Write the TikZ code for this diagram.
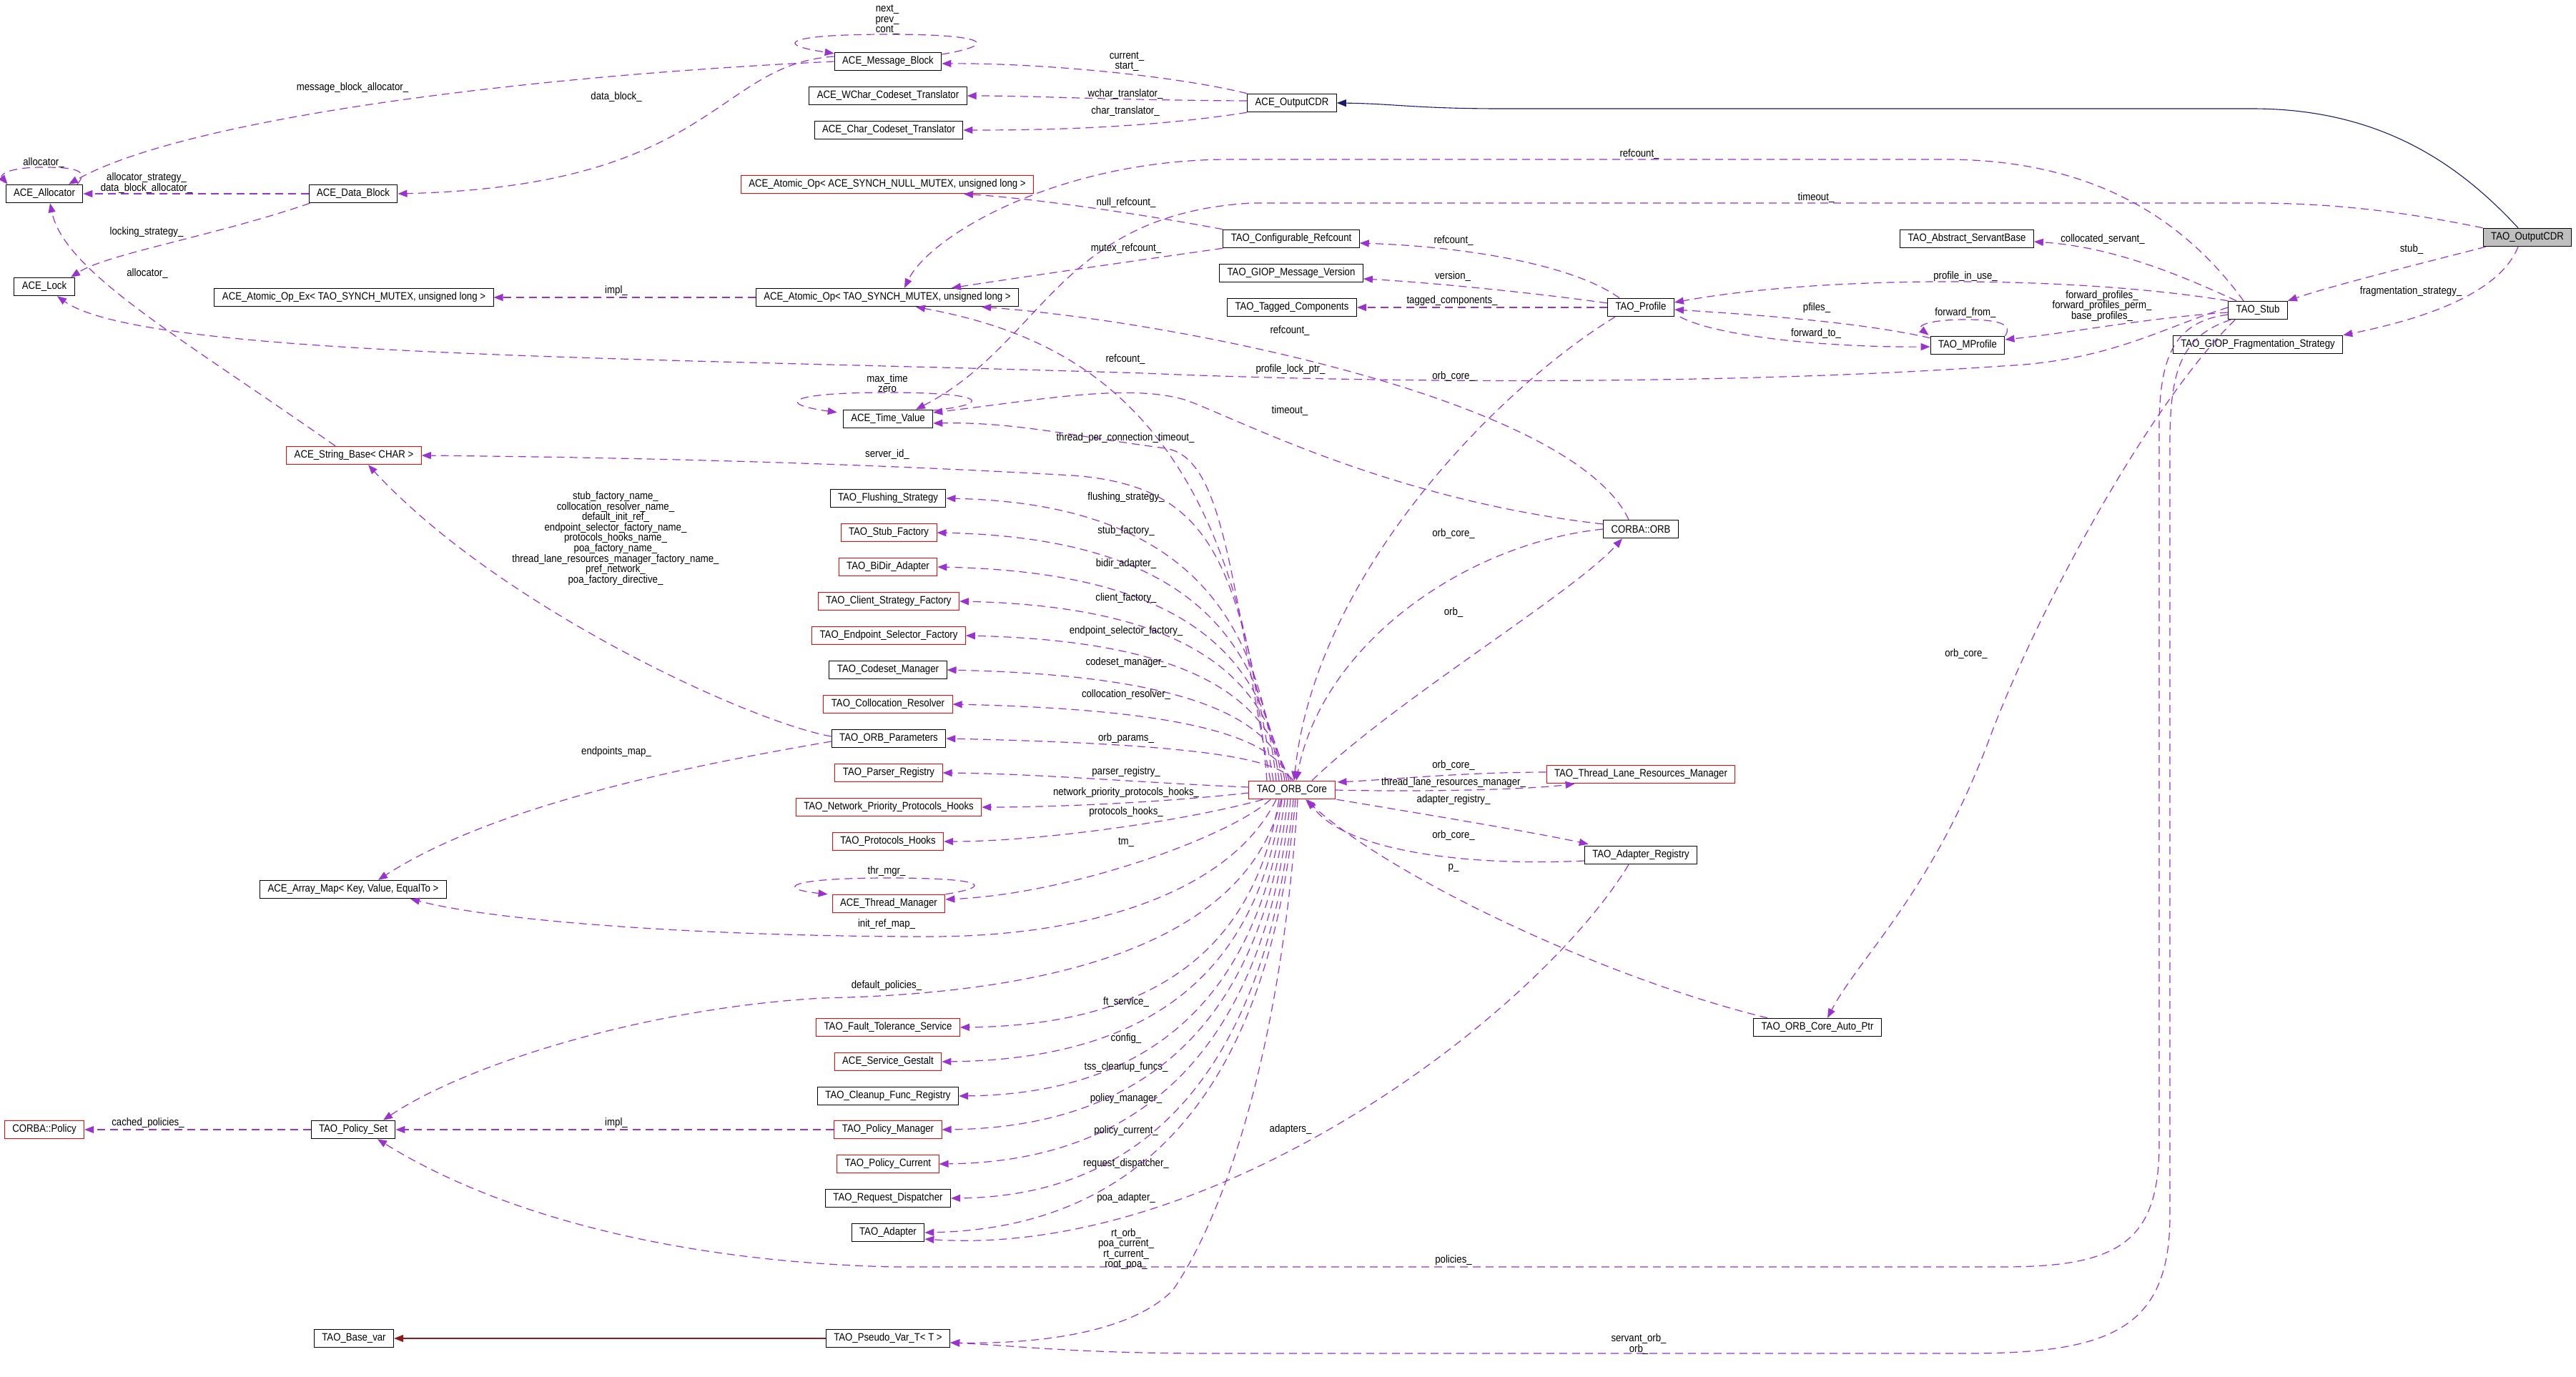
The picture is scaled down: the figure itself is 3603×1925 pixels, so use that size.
\documentclass[tikz,border=0pt]{standalone}
\usepackage{fontspec}
\newfontfamily\doxyfont{Liberation Sans}[FakeStretch=0.88]
\usepackage{xcolor}
\usepackage{tikz}
\usetikzlibrary{arrows.meta,calc,positioning}
\definecolor{membpurple}{RGB}{154,50,205}
\definecolor{inhblue}{RGB}{25,25,112}
\definecolor{tmplred}{RGB}{139,26,26}
\definecolor{focusgray}{RGB}{191,191,191}
\tikzset{
  cls/.style={draw=black,line width=1pt,minimum height=25.5pt,inner xsep=11pt,inner ysep=0pt,font=\doxyfont\fontsize{15}{15}\selectfont},
  clsred/.style={cls,draw=red},
  lbl/.style={inner sep=0pt,align=center,font=\doxyfont\fontsize{15}{14.6}\selectfont},
  memb/.style={draw=membpurple,line width=1.2pt,dash pattern=on 11pt off 7pt,-{Triangle[length=13pt,width=10pt]}},
  inh/.style={draw=inhblue,line width=1.1pt,-{Triangle[length=13pt,width=10pt]}},
  tmpl/.style={draw=tmplred,line width=1.1pt,-{Triangle[length=13pt,width=10pt]}}
}

\begin{document}
\begin{tikzpicture}[x=1pt,y=-1pt]
  \useasboundingbox (0,0) rectangle (3603,1925);
  % classes
  \node[cls] (msgblk) at (1242,86) {ACE\_Message\_Block};
  \node[cls] (wchar) at (1242,134) {ACE\_WChar\_Codeset\_Translator};
  \node[cls] (charcs) at (1243,182) {ACE\_Char\_Codeset\_Translator};
  \node[cls] (acecdr) at (1807,144) {ACE\_OutputCDR};
  \node[clsred] (atomnull) at (1241,258) {ACE\_Atomic\_Op< ACE\_SYNCH\_NULL\_MUTEX, unsigned long >};
  \node[cls] (cfgref) at (1806,334) {TAO\_Configurable\_Refcount};
  \node[cls] (giopver) at (1806,382) {TAO\_GIOP\_Message\_Version};
  \node[cls] (tagcomp) at (1807,430) {TAO\_Tagged\_Components};
  \node[cls] (atommtx) at (1241,416) {ACE\_Atomic\_Op< TAO\_SYNCH\_MUTEX, unsigned long >};
  \node[cls] (alloc) at (62,271) {ACE\_Allocator};
  \node[cls] (datablk) at (494,271) {ACE\_Data\_Block};
  \node[cls] (lock) at (62,401) {ACE\_Lock};
  \node[cls] (atomex) at (495,416) {ACE\_Atomic\_Op\_Ex< TAO\_SYNCH\_MUTEX, unsigned long >};
  \node[cls] (profile) at (2295,430) {TAO\_Profile};
  \node[cls] (servant) at (2751,334) {TAO\_Abstract\_ServantBase};
  \node[cls,fill=focusgray] (taocdr) at (3535,332) {TAO\_OutputCDR};
  \node[cls] (stub) at (3158,434) {TAO\_Stub};
  \node[cls] (fragstr) at (3158,482) {TAO\_GIOP\_Fragmentation\_Strategy};
  \node[cls] (mprofile) at (2752,483) {TAO\_MProfile};
  \node[cls] (corbaorb) at (2295,740) {CORBA::ORB};
  \node[cls] (timeval) at (1242,586) {ACE\_Time\_Value};
  \node[clsred] (strbase) at (495,637) {ACE\_String\_Base< CHAR >};
  \node[cls] (flush) at (1242,697) {TAO\_Flushing\_Strategy};
  \node[clsred] (stubfac) at (1243,745) {TAO\_Stub\_Factory};
  \node[clsred] (bidir) at (1242,793) {TAO\_BiDir\_Adapter};
  \node[clsred] (clifac) at (1243,841) {TAO\_Client\_Strategy\_Factory};
  \node[clsred] (epsel) at (1243,889) {TAO\_Endpoint\_Selector\_Factory};
  \node[cls] (codeset) at (1242,937) {TAO\_Codeset\_Manager};
  \node[clsred] (colloc) at (1242,985) {TAO\_Collocation\_Resolver};
  \node[cls] (orbparams) at (1243,1033) {TAO\_ORB\_Parameters};
  \node[clsred] (parser) at (1243,1081) {TAO\_Parser\_Registry};
  \node[clsred] (netprio) at (1243,1129) {TAO\_Network\_Priority\_Protocols\_Hooks};
  \node[clsred] (prothooks) at (1242,1177) {TAO\_Protocols\_Hooks};
  \node[clsred] (thrmgr) at (1243,1264) {ACE\_Thread\_Manager};
  \node[clsred] (orbcore) at (1807,1105) {TAO\_ORB\_Core};
  \node[cls] (arraymap) at (494,1244) {ACE\_Array\_Map< Key, Value, EqualTo >};
  \node[clsred] (tlrm) at (2295,1083) {TAO\_Thread\_Lane\_Resources\_Manager};
  \node[cls] (adreg) at (2295,1196) {TAO\_Adapter\_Registry};
  \node[cls] (autoptr) at (2542,1437) {TAO\_ORB\_Core\_Auto\_Ptr};
  \node[clsred] (policy) at (62,1580) {CORBA::Policy};
  \node[cls] (polset) at (494,1580) {TAO\_Policy\_Set};
  \node[cls] (basevar) at (495,1872) {TAO\_Base\_var};
  \node[clsred] (ftserv) at (1242,1437) {TAO\_Fault\_Tolerance\_Service};
  \node[clsred] (gestalt) at (1242,1485) {ACE\_Service\_Gestalt};
  \node[cls] (cleanup) at (1242,1533) {TAO\_Cleanup\_Func\_Registry};
  \node[clsred] (polmgr) at (1242,1580) {TAO\_Policy\_Manager};
  \node[clsred] (polcur) at (1242,1628) {TAO\_Policy\_Current};
  \node[cls] (reqdisp) at (1242,1676) {TAO\_Request\_Dispatcher};
  \node[cls] (adapter) at (1242,1724) {TAO\_Adapter};
  \node[cls] (pseudovar) at (1242,1872) {TAO\_Pseudo\_Var\_T< T >};

  % inheritance
  \draw[inh] ($(taocdr.north)+(-13,0)$) .. controls (3440,230) and (3330,152) .. (3150,152) -- (2100,152) .. controls (1980,152) and (1950,145) .. (acecdr.east);
  \draw[tmpl] (pseudovar.west) -- (basevar.east);

  % ACE_OutputCDR and message blocks
  \draw[memb] (acecdr.north west) .. controls (1640,105) and (1450,88) .. ($(msgblk.east)+(0,3)$);
  \draw[memb] ($(acecdr.west)+(0,-3)$) .. controls (1550,140) and (1450,134) .. (wchar.east);
  \draw[memb] (acecdr.south west) .. controls (1600,180) and (1450,182) .. (charcs.east);
  \draw[memb] ($(msgblk.east)+(0,-10)$) .. controls (1400,62) and (1380,48) .. (1242,48) .. controls (1100,48) and (1080,62) .. ($(msgblk.north west)+(0,2)$);
  \draw[memb] (msgblk.west) .. controls (700,108) and (250,170) .. ($(alloc.north)+(34,0)$);
  \draw[memb] ($(msgblk.west)+(0,-7)$) .. controls (1000,90) and (1000,260) .. (datablk.east);
  \draw[memb] ($(alloc.north)+(46,0)$) .. controls (125,238) and (105,234) .. (60,234) .. controls (10,234) and (0,245) .. ($(alloc.north west)+(3,0)$);
  \draw[memb] (datablk.west) -- (alloc.east);
  \draw[memb] ($(datablk.south west)+(2,0)$) .. controls (300,330) and (150,355) .. ($(lock.north)+(37,0)$);
  \draw[memb] ($(strbase.north)+(-26,0)$) .. controls (250,470) and (90,380) .. ($(alloc.south)+(8,0)$);
  \draw[memb] (atommtx.west) -- (atomex.east);
  \draw[memb] (cfgref.north west) .. controls (1600,300) and (1450,278) .. ($(atomnull.south)+(107,0)$);
  \draw[memb] (cfgref.south west) .. controls (1550,370) and (1400,392) .. ($(atommtx.north)+(90,0)$);

  % TAO_Profile, TAO_Stub, TAO_OutputCDR
  \draw[memb] ($(profile.north)+(-30,0)$) .. controls (2200,370) and (2050,345) .. ($(cfgref.east)+(0,6)$);
  \draw[memb] ($(profile.west)+(0,-6)$) .. controls (2150,410) and (2000,395) .. ($(giopver.east)+(0,8)$);
  \draw[memb] (profile.west) -- (tagcomp.east);
  \draw[memb] ($(stub.north)+(-20,0)$) .. controls (3050,300) and (2920,223) .. (2720,223) -- (1720,223) .. controls (1480,223) and (1300,330) .. ($(atommtx.north)+(24,0)$);
  \draw[memb] (taocdr.north west) .. controls (3380,300) and (3280,284) .. (3150,284) -- (1750,284) .. controls (1480,300) and (1460,480) .. ($(timeval.north)+(39,0)$);
  \draw[memb] ($(taocdr.south west)+(4,0)$) .. controls (3380,370) and (3260,400) .. (stub.north east);
  \draw[memb] ($(taocdr.south)+(-13,0)$) .. controls (3500,400) and (3420,440) .. (fragstr.north east);
  \draw[memb] ($(stub.north)+(-30,0)$) .. controls (3040,380) and (2950,345) .. ($(servant.east)+(0,4)$);
  \draw[memb] (stub.north west) .. controls (2900,385) and (2550,385) .. ($(profile.east)+(0,-7)$);
  \draw[memb] ($(stub.west)+(0,3)$) .. controls (3000,445) and (2900,465) .. ($(mprofile.east)+(0,-8)$);
  \draw[memb] (mprofile.north east) .. controls (2815,455) and (2800,447) .. (2750,447) .. controls (2700,447) and (2680,455) .. ($(mprofile.north west)+(-2,-1)$);
  \draw[memb] ($(mprofile.north west)+(0,3)$) .. controls (2600,450) and (2450,440) .. ($(profile.east)+(0,3)$);
  \draw[memb] ($(profile.south east)+(8,0)$) .. controls (2400,470) and (2550,486) .. ($(mprofile.west)+(0,2)$);
  \draw[memb] ($(stub.west)+(0,-4)$) .. controls (3020,460) and (2950,505) .. (2800,512) .. controls (2400,540) and (1900,535) .. (1600,522) .. controls (900,500) and (200,500) .. ($(lock.south)+(18,0)$);
  \draw[memb] ($(stub.west)+(0,6)$) .. controls (3040,450) and (3020,500) .. (3020,600) -- (3020,1600) .. controls (3020,1740) and (2960,1772) .. (2800,1772) -- (1250,1772) .. controls (950,1765) and (700,1700) .. ($(polset.south)+(34,0)$);
  \draw[memb] ($(stub.south west)+(4,0)$) .. controls (3050,470) and (3035,520) .. (3035,620) -- (3035,1700) .. controls (3035,1860) and (2950,1893) .. (2750,1893) -- (1700,1893) .. controls (1500,1893) and (1420,1882) .. ($(pseudovar.east)+(0,6)$);
  \draw[memb] ($(stub.south west)+(10,0)$) .. controls (3010,560) and (2850,850) .. (2780,1040) .. controls (2700,1250) and (2600,1340) .. ($(autoptr.north)+(14,0)$);

  % CORBA::ORB and time values
  \draw[memb] ($(orbcore.north)+(-35,0)$) .. controls (1730,580) and (1500,470) .. ($(atommtx.south)+(40,0)$);
  \draw[memb] ($(corbaorb.north)+(-17,0)$) .. controls (2200,560) and (1650,450) .. ($(atommtx.south)+(132,0)$);
  \draw[memb] ($(timeval.east)+(0,-12)$) .. controls (1390,565) and (1380,549) .. (1242,549) .. controls (1100,549) and (1085,565) .. ($(timeval.north west)+(-8,4)$);
  \draw[memb] ($(corbaorb.west)+(0,-7)$) .. controls (1950,700) and (1740,590) .. (1660,560) .. controls (1580,535) and (1450,560) .. ($(timeval.east)+(0,-9)$);
  \draw[memb] ($(orbcore.north)+(-30,0)$) .. controls (1720,800) and (1710,640) .. (1630,627) .. controls (1500,610) and (1420,590) .. ($(timeval.east)+(0,6)$);
  \draw[memb] ($(orbcore.north)+(-26,0)$) .. controls (1730,790) and (1700,680) .. (1500,665) .. controls (1200,648) and (900,640) .. (strbase.east);
  \draw[memb] ($(profile.south west)+(11,0)$) .. controls (2100,540) and (1840,800) .. ($(orbcore.north)+(3,0)$);
  \draw[memb] (corbaorb.west) .. controls (2050,760) and (1850,900) .. ($(orbcore.north)+(6,0)$);
  \draw[memb] ($(orbcore.north)+(28,0)$) .. controls (1950,980) and (2200,830) .. ($(corbaorb.south)+(-26,0)$);

  % ORB parameters
  \draw[memb] ($(orbparams.west)+(0,-3)$) .. controls (1050,1010) and (700,850) .. ($(strbase.south)+(20,0)$);
  \draw[memb] ($(orbparams.west)+(0,4)$) .. controls (1000,1065) and (700,1120) .. ($(arraymap.north)+(35,0)$);

  % members of TAO_ORB_Core above it
  \foreach \tgt/\ty/\dx/\ly/\txt in {
    flush/697/-22/696/flushing\_strategy\_,
    stubfac/745/-18/743/stub\_factory\_,
    bidir/793/-14/789/bidir\_adapter\_,
    clifac/841/-10/837/client\_factory\_,
    epsel/889/-7/883/endpoint\_selector\_factory\_,
    codeset/937/-4/927/codeset\_manager\_,
    colloc/985/-1/972/collocation\_resolver\_,
    orbparams/1033/2/1033/orb\_params\_}{
    \draw[memb] ($(orbcore.north)+(\dx,0)$) .. controls ({1785+\dx},{(\ty+1092)/2}) and (1690,{\ty+8}) .. (\tgt.east);
    \node[lbl] (l-\tgt) at (1575,\ly) {\txt};
  }
  % members of TAO_ORB_Core below it
  \foreach \tgt/\ty/\dx/\ly/\txt in {
    ftserv/1437/-18/1402/ft\_service\_,
    gestalt/1485/-14/1453/config\_,
    cleanup/1533/-10/1493/tss\_cleanup\_funcs\_,
    polmgr/1580/-6/1537/policy\_manager\_,
    polcur/1628/-2/1582/policy\_current\_,
    reqdisp/1676/2/1628/request\_dispatcher\_,
    adapter/1720/5/1676/poa\_adapter\_}{
    \draw[memb] ($(orbcore.south)+(\dx,0)$) .. controls ({1780+\dx},{(\ty+1117)/2}) and (1670,{\ty-4}) .. (\tgt.east);
    \node[lbl] (l-\tgt) at (1575,\ly) {\txt};
  }
  \draw[memb] ($(orbcore.west)+(0,-4)$) .. controls (1600,1095) and (1450,1082) .. (parser.east);
  \draw[memb] ($(orbcore.west)+(0,4)$) .. controls (1600,1125) and (1450,1129) .. (netprio.east);
  \draw[memb] ($(orbcore.south west)+(20,0)$) .. controls (1650,1150) and (1450,1177) .. (prothooks.east);
  \draw[memb] ($(orbcore.south)+(-30,0)$) .. controls (1720,1170) and (1500,1250) .. ($(thrmgr.east)+(0,-6)$);
  \draw[memb] (thrmgr.north east) .. controls (1390,1240) and (1380,1228) .. (1242,1228) .. controls (1100,1228) and (1085,1243) .. ($(thrmgr.north west)+(-6,0)$);
  \draw[memb] ($(orbcore.south)+(-22,0)$) .. controls (1720,1250) and (1520,1310) .. (1300,1310) .. controls (1000,1310) and (700,1290) .. ($(arraymap.south)+(80,0)$);
  \draw[memb] ($(orbcore.south)+(-15,0)$) .. controls (1740,1330) and (1450,1390) .. (1150,1396) .. controls (900,1410) and (650,1490) .. ($(polset.north)+(42,0)$);
  \draw[memb] ($(orbcore.south)+(8,0)$) .. controls (1790,1500) and (1700,1720) .. (1640,1805) .. controls (1580,1865) and (1450,1880) .. ($(pseudovar.east)+(0,6)$);

  % right of TAO_ORB_Core
  \draw[memb] ($(tlrm.west)+(0,-3)$) .. controls (2050,1080) and (1950,1090) .. ($(orbcore.east)+(3,-11)$);
  \draw[memb] (orbcore.east) .. controls (2000,1108) and (2140,1104) .. ($(tlrm.south west)+(40,0)$);
  \draw[memb] ($(orbcore.south east)+(2,0)$) .. controls (2000,1140) and (2150,1165) .. ($(adreg.north west)+(6,-2)$);
  \draw[memb] ($(adreg.west)+(0,8)$) .. controls (2050,1212) and (1880,1190) .. ($(orbcore.south)+(22,0)$);
  \draw[memb] ($(autoptr.north west)+(20,0)$) .. controls (2250,1370) and (1950,1230) .. ($(orbcore.south)+(19,0)$);
  \draw[memb] ($(adreg.south)+(-17,0)$) .. controls (2150,1420) and (1700,1760) .. ($(adapter.east)+(0,9)$);

  % policies
  \draw[memb] (polmgr.west) -- (polset.east);
  \draw[memb] (polset.west) -- (policy.east);

  % labels
  \node[lbl] (l-mbloop) at (1241,28) {next\_\\prev\_\\cont\_};
  \node[lbl] (l-current) at (1576,86) {current\_\\start\_};
  \node[lbl] (l-wchar) at (1574,132) {wchar\_translator\_};
  \node[lbl] (l-char) at (1574,156) {char\_translator\_};
  \node[lbl] (l-mballoc) at (493,123) {message\_block\_allocator\_};
  \node[lbl] (l-datablk) at (862,136) {data\_block\_};
  \node[lbl] (l-allocloop) at (61,228) {allocator\_};
  \node[lbl] (l-dballoc) at (205,256) {allocator\_strategy\_\\data\_block\_allocator\_};
  \node[lbl] (l-locking) at (205,325) {locking\_strategy\_};
  \node[lbl] (l-sballoc) at (206,383) {allocator\_};
  \node[lbl] (l-implex) at (862,407) {impl\_};
  \node[lbl] (l-stubref) at (2293,216) {refcount\_};
  \node[lbl] (l-cdrtime) at (2540,277) {timeout\_};
  \node[lbl] (l-nullref) at (1575,284) {null\_refcount\_};
  \node[lbl] (l-mtxref) at (1575,348) {mutex\_refcount\_};
  \node[lbl] (l-profref) at (2033,337) {refcount\_};
  \node[lbl] (l-version) at (2032,387) {version\_};
  \node[lbl] (l-tagged) at (2031,421) {tagged\_components\_};
  \node[lbl] (l-colloc) at (2941,335) {collocated\_servant\_};
  \node[lbl] (l-inuse) at (2749,387) {profile\_in\_use\_};
  \node[lbl] (l-fwdprof) at (2940,428) {forward\_profiles\_\\forward\_profiles\_perm\_\\base\_profiles\_};
  \node[lbl] (l-pfiles) at (2541,431) {pfiles\_};
  \node[lbl] (l-fwdfrom) at (2749,438) {forward\_from\_};
  \node[lbl] (l-fwdto) at (2540,467) {forward\_to\_};
  \node[lbl] (l-stub) at (3373,349) {stub\_};
  \node[lbl] (l-frag) at (3372,408) {fragmentation\_strategy\_};
  \node[lbl] (l-lockptr) at (1805,517) {profile\_lock\_ptr\_};
  \node[lbl] (l-orbref) at (1804,463) {refcount\_};
  \node[lbl] (l-proforb) at (2033,527) {orb\_core\_};
  \node[lbl] (l-coreref) at (1574,503) {refcount\_};
  \node[lbl] (l-tvloop) at (1241,536) {max\_time\\zero};
  \node[lbl] (l-orbtime) at (1804,575) {timeout\_};
  \node[lbl] (l-tpct) at (1574,613) {thread\_per\_connection\_timeout\_};
  \node[lbl] (l-server) at (1241,636) {server\_id\_};
  \node[lbl] (l-names) at (861,753) {stub\_factory\_name\_\\collocation\_resolver\_name\_\\default\_init\_ref\_\\endpoint\_selector\_factory\_name\_\\protocols\_hooks\_name\_\\poa\_factory\_name\_\\thread\_lane\_resources\_manager\_factory\_name\_\\pref\_network\_\\poa\_factory\_directive\_};
  \node[lbl] (l-epmap) at (862,1052) {endpoints\_map\_};
  \node[lbl] (l-parser) at (1575,1080) {parser\_registry\_};
  \node[lbl] (l-netprio) at (1575,1109) {network\_priority\_protocols\_hooks\_};
  \node[lbl] (l-prothooks) at (1575,1136) {protocols\_hooks\_};
  \node[lbl] (l-tm) at (1575,1178) {tm\_};
  \node[lbl] (l-thrloop) at (1240,1219) {thr\_mgr\_};
  \node[lbl] (l-initref) at (1240,1293) {init\_ref\_map\_};
  \node[lbl] (l-defpol) at (1240,1379) {default\_policies\_};
  \node[lbl] (l-orbcore) at (2033,747) {orb\_core\_};
  \node[lbl] (l-orb) at (2033,857) {orb\_};
  \node[lbl] (l-tlrmcore) at (2033,1071) {orb\_core\_};
  \node[lbl] (l-tlrm) at (2033,1095) {thread\_lane\_resources\_manager\_};
  \node[lbl] (l-adreg) at (2033,1119) {adapter\_registry\_};
  \node[lbl] (l-regcore) at (2033,1169) {orb\_core\_};
  \node[lbl] (l-p) at (2033,1214) {p\_};
  \node[lbl] (l-stubcore) at (2750,915) {orb\_core\_};
  \node[lbl] (l-adapters) at (1805,1580) {adapters\_};
  \node[lbl] (l-pseudo) at (1575,1747) {rt\_orb\_\\poa\_current\_\\rt\_current\_\\root\_poa\_};
  \node[lbl] (l-policies) at (2033,1763) {policies\_};
  \node[lbl] (l-servorb) at (2292,1880) {servant\_orb\_\\orb\_};
  \node[lbl] (l-cached) at (207,1571) {cached\_policies\_};
  \node[lbl] (l-implset) at (862,1571) {impl\_};
\end{tikzpicture}
\end{document}
